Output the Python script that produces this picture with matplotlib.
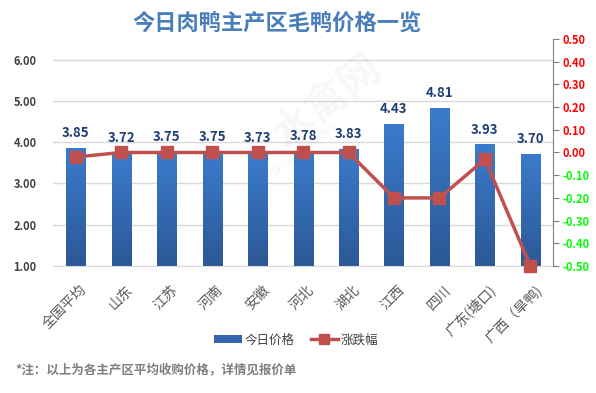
import numpy as np
import matplotlib.pyplot as plt
import matplotlib.transforms as mtrans
from matplotlib.patches import Rectangle
from matplotlib.lines import Line2D
from matplotlib.colors import LinearSegmentedColormap

plt.rcParams['font.family'] = ['Noto Sans CJK SC', 'DejaVu Sans']

# ── data ──────────────────────────────────────────────────
regions = ["全国平均", "山东", "江苏", "河南", "安徽", "河北", "湖北",
           "江西", "四川", "广东(塘口)", "广西（旱鸭)"]
prices  = [3.85, 3.72, 3.75, 3.75, 3.73, 3.78, 3.83, 4.43, 4.81, 3.93, 3.70]
change  = [-0.02, 0.00, 0.00, 0.00, 0.00, 0.00, 0.00, -0.20, -0.20, -0.03, -0.50]
left_ticks  = [1, 2, 3, 4, 5, 6]
right_ticks = [0.5, 0.4, 0.3, 0.2, 0.1, 0.0, -0.1, -0.2, -0.3, -0.4, -0.5]

# ── figure ────────────────────────────────────────────────
fig = plt.figure(figsize=(5.96, 3.93), dpi=100)
ax = fig.add_axes([0.089, 0.323, 0.839, 0.578])
ax2 = ax.twinx()

x = np.arange(len(regions))
bw = 0.42

# bars with vertical gradient
cmap = LinearSegmentedColormap.from_list("bar", ["#2c5896", "#3b7bcc"])
grad = np.linspace(0, 1, 256).reshape(-1, 1)
for xi, v in zip(x, prices):
    ax.imshow(grad, extent=[xi - bw / 2, xi + bw / 2, 1, v], origin="lower",
              cmap=cmap, aspect="auto", zorder=2)
    ax.text(xi, v + 0.2, f"{v:.2f}", ha="center", va="bottom",
            fontsize=9.5, fontweight="bold", color="#1f3f73", zorder=5)
ax.set_xlim(-0.5, len(regions) - 0.5)
ax.set_ylim(1, 6.5)

ax.set_yticks(left_ticks)
ax.set_yticklabels([f"{t:.2f}" for t in left_ticks], fontsize=8,
                   fontweight="bold", color="#404040")
ax.yaxis.grid(True, color="#d9d9d9", lw=1, zorder=0)
ax.set_axisbelow(True)
ax.tick_params(axis="y", length=0, pad=12)
ax.tick_params(axis="x", length=0, pad=12)
for s in ["top", "left", "right"]:
    ax.spines[s].set_visible(False)
ax.spines["bottom"].set_color("#d9d9d9")

ax.set_xticks(x)
ax.set_xticklabels(regions, rotation=45, ha="right", va="top",
                   rotation_mode="anchor", fontsize=10, color="#595959")
shift = mtrans.ScaledTranslation(4 / 100, 0, fig.dpi_scale_trans)
for lab in ax.get_xticklabels():
    lab.set_transform(lab.get_transform() + shift)

# line on secondary axis
ax2.plot(x, change, color="#c0504d", lw=2.5, marker="s", ms=8,
         markerfacecolor="#c0504d", markeredgecolor="#c0504d", zorder=4,
         clip_on=False)
ax2.set_ylim(-0.5, 0.5)
ax2.set_yticks(right_ticks)
ax2.set_yticklabels([f"{t:.2f}" for t in right_ticks], fontsize=8,
                    fontweight="bold")
for t, lab in zip(right_ticks, ax2.get_yticklabels()):
    lab.set_color("#ff0000" if t >= 0 else "#00ff00")
ax2.tick_params(axis="y", length=4, color="#808080", direction="out", pad=3)
for s in ["top", "left", "bottom"]:
    ax2.spines[s].set_visible(False)
ax2.spines["right"].set_color("#808080")

# faint watermark
fig.text(0.55, 0.74, "水禽网", fontsize=30, fontweight="bold", color="#000000",
         alpha=0.035, rotation=38, ha="center", va="center")
fig.text(0.51, 0.62, "SHUIQINWANG", fontsize=8, color="#000000",
         alpha=0.05, rotation=38, ha="center", va="center")

# title
fig.text(0.465, 0.942, "今日肉鸭主产区毛鸭价格一览", ha="center", va="center",
         fontsize=16, fontweight="bold", color="#4a7ebb")

# legend
handles = [Rectangle((0, 0), 1, 1, facecolor="#3466ad"),
           Line2D([0], [0], color="#c0504d", lw=2.5, marker="s", ms=7)]
fig.legend(handles, ["今日价格", "涨跌幅"], loc="center",
           bbox_to_anchor=(0.497, 0.135), ncol=2, frameon=False, fontsize=9,
           labelcolor="#404040", handlelength=2.2, handletextpad=0.2,
           columnspacing=1.3)

# footnote
fig.text(0.025, 0.058, "*注：以上为各主产区平均收购价格，详情见报价单",
         fontsize=9, fontweight="bold", color="#7f7f7f", ha="left", va="center")

fig.savefig("out.png", dpi=100)
